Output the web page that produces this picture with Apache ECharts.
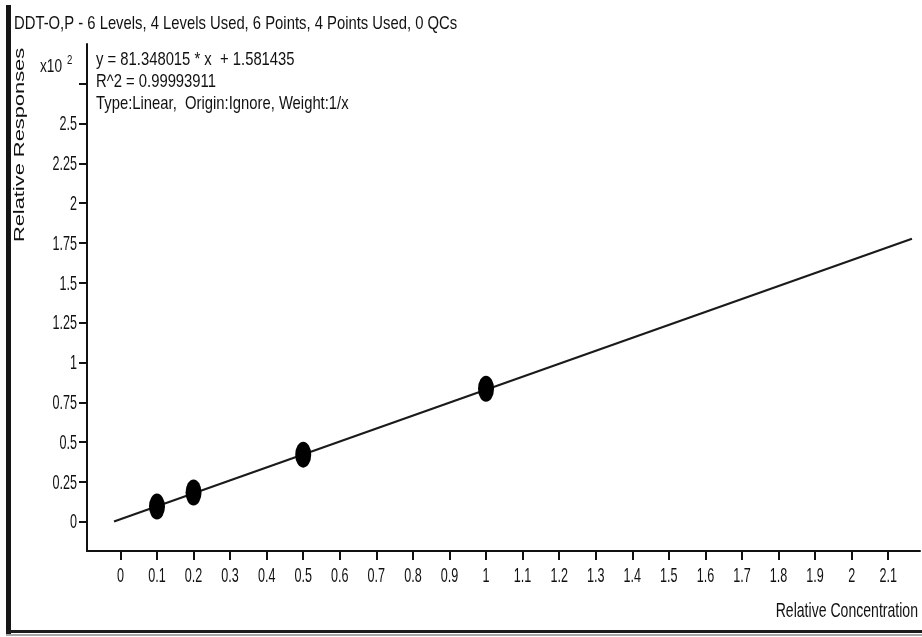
<!DOCTYPE html>
<html>
<head>
<meta charset="utf-8">
<title>DDT-O,P calibration</title>
<script src="https://cdn.jsdelivr.net/npm/echarts@6/dist/echarts.min.js"></script>
<style>
  html, body { margin: 0; padding: 0; background: #fff; }
  #chart { width: 922px; height: 637px; }
</style>
</head>
<body>
<div id="chart"></div>
<script>
// Calibration levels used in the fit (relative concentration)
const concentration = [0.1, 0.2, 0.5, 1.0];
// Relative responses at those levels (raw units; axis shows x10^2)
const response = [9.5, 18.3, 42.1, 83.5];
const responseScale = 100;

// Linear fit reported for the compound
const slope = 81.348015;
const intercept = 1.581435;
const fitRange = [-0.0175, 2.165];

// Axis ticks and labels
const xTicks = [0, 0.1, 0.2, 0.3, 0.4, 0.5, 0.6, 0.7, 0.8, 0.9, 1, 1.1, 1.2, 1.3, 1.4, 1.5, 1.6, 1.7, 1.8, 1.9, 2, 2.1];
const yTicks = [0, 0.25, 0.5, 0.75, 1, 1.25, 1.5, 1.75, 2, 2.25, 2.5, 2.75];
const yLabels = [0, 0.25, 0.5, 0.75, 1, 1.25, 1.5, 1.75, 2, 2.25, 2.5];

const titleText = 'DDT-O,P - 6 Levels, 4 Levels Used, 6 Points, 4 Points Used, 0 QCs';
const fitLines = [
  'y = 81.348015 * x  + 1.581435',
  'R^2 = 0.99993911',
  'Type:Linear,  Origin:Ignore, Weight:1/x'
];

const X_MIN = -0.0914, X_MAX = 2.187;
const Y_MIN = -0.184, Y_MAX = 3.0;

const FONT = "'Liberation Sans', Arial, sans-serif";
const INK = '#111';
// tall, condensed lettering used for the tick labels
const TICK_FONT = '21px ' + FONT;
const TICK_SQUEEZE = 0.6;
// header / fit summary lettering
const NOTE_FONT = '19px ' + FONT;
const NOTE_SQUEEZE = 0.78;

const pointData = concentration.map((c, i) => [c, response[i] / responseScale]);
const fitData = fitRange.map(x => [x, (slope * x + intercept) / responseScale]);

const chart = echarts.init(document.getElementById('chart'), null, { renderer: 'canvas' });

function condensedText(x, y, text, font, squeeze, align, verticalAlign, extra) {
  return Object.assign({
    type: 'text', x: x, y: y, scaleX: squeeze,
    style: { text: text, font: font, fill: INK, align: align, verticalAlign: verticalAlign }
  }, extra || {});
}

chart.setOption({
  backgroundColor: '#ffffff',
  animation: false,
  grid: { left: 87, right: 2, top: 44, bottom: 86, outerBoundsMode: 'none' },
  xAxis: {
    type: 'value',
    min: X_MIN,
    max: X_MAX,
    splitLine: { show: false },
    axisLine: { show: true, onZero: false, lineStyle: { color: INK, width: 2 } },
    axisTick: { show: true, customValues: xTicks, length: 9, lineStyle: { color: INK, width: 2 } },
    axisLabel: { show: false }
  },
  yAxis: {
    type: 'value',
    min: Y_MIN,
    max: Y_MAX,
    splitLine: { show: false },
    axisLine: { show: true, onZero: false, lineStyle: { color: INK, width: 2 } },
    axisTick: { show: true, customValues: yTicks, length: 8, lineStyle: { color: INK, width: 2 } },
    axisLabel: { show: false }
  },
  series: [
    {
      name: 'Fit',
      type: 'line',
      data: fitData,
      showSymbol: false,
      symbol: 'none',
      lineStyle: { color: '#1a1a1a', width: 2.2 },
      z: 2
    },
    {
      name: 'Levels',
      type: 'scatter',
      data: pointData,
      symbol: 'circle',
      symbolSize: [16, 26],
      itemStyle: { color: '#000', opacity: 1 },
      z: 3
    },
    {
      // x tick labels, condensed, placed under the axis via the x scale
      name: 'xTickLabels',
      type: 'custom',
      data: xTicks.map(v => [v, Y_MIN]),
      clip: false,
      silent: true,
      z: 5,
      renderItem: (params, api) => {
        const p = api.coord([api.value(0), api.value(1)]);
        return condensedText(p[0], p[1] + 25, String(api.value(0)), TICK_FONT, TICK_SQUEEZE, 'center', 'middle');
      }
    },
    {
      // y tick labels, right-aligned against the ticks via the y scale
      name: 'yTickLabels',
      type: 'custom',
      data: yLabels.map(v => [X_MIN, v]),
      clip: false,
      silent: true,
      z: 5,
      renderItem: (params, api) => {
        const p = api.coord([api.value(0), api.value(1)]);
        return condensedText(p[0] - 10, p[1] + 1, String(api.value(1)), TICK_FONT, TICK_SQUEEZE, 'right', 'middle');
      }
    }
  ],
  graphic: [
    // frame edges
    { type: 'rect', shape: { x: 6, y: 5, width: 5, height: 629 }, style: { fill: '#161616' } },
    { type: 'rect', shape: { x: 6, y: 630, width: 916, height: 3 }, style: { fill: '#1c1c1c' } },
    { type: 'rect', shape: { x: 6, y: 634, width: 916, height: 2 }, style: { fill: '#a8a8a8' } },
    // header
    condensedText(14, 24, titleText, NOTE_FONT, NOTE_SQUEEZE, 'left', 'middle'),
    // fit summary
    condensedText(96, 60, fitLines[0], NOTE_FONT, NOTE_SQUEEZE, 'left', 'middle'),
    condensedText(96, 82, fitLines[1], NOTE_FONT, NOTE_SQUEEZE, 'left', 'middle'),
    condensedText(96, 104, fitLines[2], NOTE_FONT, NOTE_SQUEEZE, 'left', 'middle'),
    // axis multiplier
    condensedText(40, 67, 'x10', '18px ' + FONT, 0.76, 'left', 'middle'),
    condensedText(67, 61, '2', '12px ' + FONT, 0.8, 'left', 'middle'),
    // axis titles
    condensedText(20, 145, 'Relative Responses', '14px ' + FONT, 1.56, 'center', 'middle', { rotation: Math.PI / 2 }),
    condensedText(918, 611, 'Relative Concentration', '21px ' + FONT, 0.67, 'right', 'middle')
  ]
});
</script>
</body>
</html>
